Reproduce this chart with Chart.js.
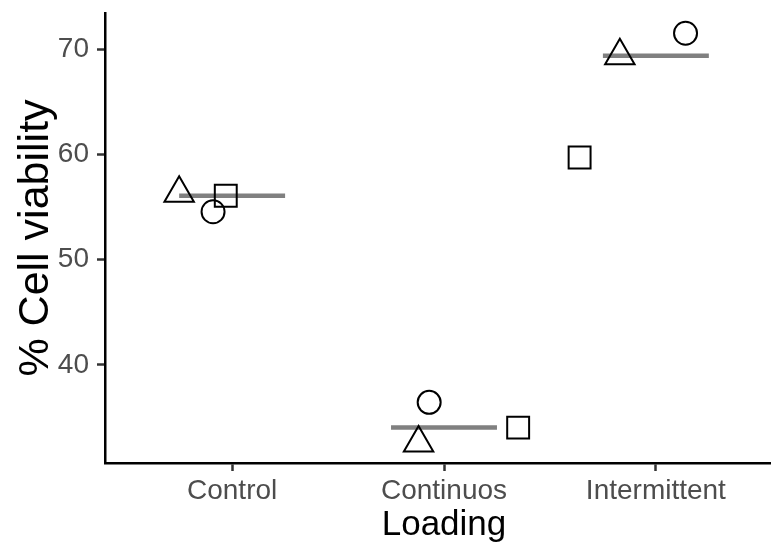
<html><head><title>Cell viability by loading</title>
<script src="https://cdn.jsdelivr.net/npm/chart.js"></script>
<style>
    html, body {
        margin: 0;
        padding: 0;
        width: 771px;
        height: 548px;
        overflow: hidden;
        background: #fff;
    }
    canvas {
        display: block;
    }
</style>
</head>
<body>
    <!-- the plot panel runs a little past the right edge of the window, as in the original -->
    <canvas id="viabilityChart" width="783" height="548"></canvas>

    <script>
    // categories on the x axis
    const categories = ['Control', 'Continuos', 'Intermittent'];

    // jittered x positions (1 = Control, 2 = Continuos, 3 = Intermittent)
    const triangleX = [0.75, 1.88, 2.83];
    const circleX = [0.91, 1.93, 3.14];
    const squareX = [0.97, 2.35, 2.64];

    // % cell viability, one replicate per shape
    const triangleY = [56.3, 32.6, 69.35];
    const circleY = [54.55, 36.45, 71.5];
    const squareY = [56.07, 34.05, 59.7];

    const yTicks = [40, 50, 60, 70];

    function median(arr) {
        const s = [...arr].sort((a, b) => a - b);
        return s[Math.floor(s.length / 2)];
    }

    // median bar for each group
    const medianData = [];
    categories.forEach((c, i) => {
        const m = median([triangleY[i], circleY[i], squareY[i]]);
        medianData.push({ x: i + 1 - 0.25, y: m });
        medianData.push({ x: i + 1 + 0.25, y: m });
        medianData.push({ x: i + 1.3, y: null });
    });

    const toPoints = (xs, ys) => xs.map((x, i) => ({ x: x, y: ys[i] }));

    const pointStyle = (style, radius) => ({
        type: 'scatter',
        pointStyle: style,
        pointRadius: radius,
        pointHoverRadius: radius,
        backgroundColor: 'rgba(0,0,0,0)',
        borderColor: '#000',
        borderWidth: 2,
        order: 1
    });

    const fontFamily = "'Liberation Sans', Arial, sans-serif";
    const tickFont = { family: fontFamily, size: 28 };

    const ctx = document.getElementById('viabilityChart').getContext('2d');
    new Chart(ctx, {
        type: 'scatter',
        data: {
            datasets: [
                Object.assign({ label: 'Triangle', data: toPoints(triangleX, triangleY) }, pointStyle('triangle', 17)),
                Object.assign({ label: 'Circle', data: toPoints(circleX, circleY) }, pointStyle('circle', 11.5)),
                Object.assign({ label: 'Square', data: toPoints(squareX, squareY) }, pointStyle('rect', 15.5)),
                {
                    label: 'Median',
                    type: 'line',
                    data: medianData,
                    borderColor: '#808080',
                    borderWidth: 4.5,
                    pointRadius: 0,
                    spanGaps: false,
                    fill: false,
                    order: 2
                }
            ]
        },
        options: {
            responsive: false,
            animation: false,
            layout: {
                autoPadding: false,
                padding: { top: 13, right: 0, left: 0, bottom: 0 }
            },
            plugins: {
                legend: { display: false },
                tooltip: { enabled: false }
            },
            scales: {
                x: {
                    type: 'linear',
                    min: 0.4,
                    max: 3.6,
                    afterBuildTicks: (scale) => {
                        scale.ticks = categories.map((c, i) => ({ value: i + 1 }));
                    },
                    afterFit: (scale) => {
                        scale.height = 85;
                        scale.paddingLeft = 0;
                        scale.paddingRight = 0;
                    },
                    ticks: {
                        callback: (v) => categories[v - 1],
                        color: '#4d4d4d',
                        font: tickFont,
                        padding: 3,
                        maxRotation: 0
                    },
                    grid: {
                        drawOnChartArea: false,
                        tickLength: 8,
                        tickColor: '#333',
                        tickWidth: 2.5
                    },
                    border: { display: true, color: '#000', width: 2.5 },
                    title: {
                        display: true,
                        text: 'Loading',
                        color: '#000',
                        font: { family: fontFamily, size: 35 },
                        padding: { top: 0, bottom: 1.5 }
                    }
                },
                y: {
                    type: 'linear',
                    min: 30.69,
                    max: 73.42,
                    afterBuildTicks: (scale) => {
                        scale.ticks = yTicks.map(v => ({ value: v }));
                    },
                    afterFit: (scale) => {
                        scale.width = 105;
                        scale.paddingTop = 0;
                        scale.paddingBottom = 0;
                    },
                    ticks: {
                        color: '#4d4d4d',
                        font: tickFont,
                        padding: 8
                    },
                    grid: {
                        drawOnChartArea: false,
                        tickLength: 8,
                        tickColor: '#333',
                        tickWidth: 2.5
                    },
                    border: { display: true, color: '#000', width: 2.5 },
                    title: {
                        display: true,
                        text: '% Cell viability',
                        color: '#000',
                        font: { family: fontFamily, size: 43 },
                        padding: { top: 10, bottom: 0 }
                    }
                }
            }
        }
    });
    </script>
</body>
</html>
